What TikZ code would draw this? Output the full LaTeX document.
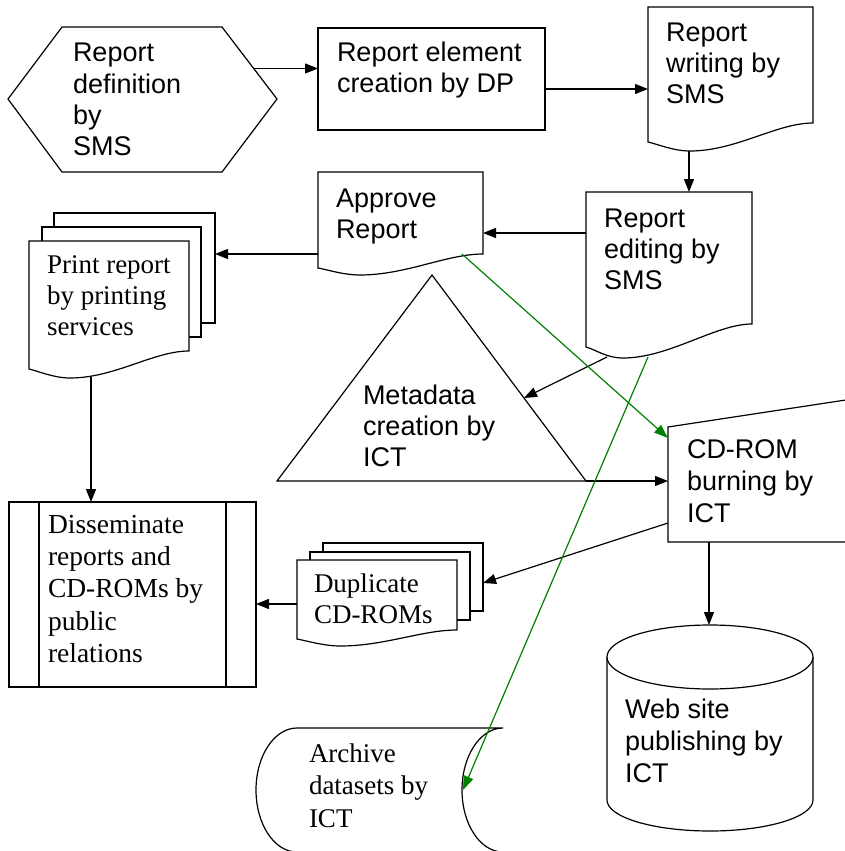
\documentclass[tikz,border=0pt]{standalone}
\usepackage{fontspec}
\setmainfont{Liberation Serif}
\newfontfamily\flowsans{Liberation Sans}
\usetikzlibrary{arrows.meta}
\definecolor{dgreen}{RGB}{0,128,0}

% multi-line labels whose anchor is the baseline of the first line
\newcommand\sanslines[2][31.3]{\parbox[t]{260pt}{\raggedright\flowsans\fontsize{27pt}{#1pt}\selectfont #2}}
\newcommand\seriflines[3][31.3]{\parbox[t]{260pt}{\raggedright\rmfamily\fontsize{#2pt}{#1pt}\selectfont #3}}

\tikzset{
  outline/.style={draw=black, line width=1.2pt, fill=white, line join=miter},
  flow/.style={draw=black, line width=1.2pt, -{Triangle[length=13pt,width=10pt]}},
  greenflow/.style={draw=dgreen, line width=1.2pt, -{Triangle[length=14pt,width=10pt]}, dgreen},
  lbl/.style={anchor=base west, inner sep=0pt, outer sep=0pt}
}

% document sheet with a wavy lower edge:
% left, top, right, left-bottom y, right-bottom y, lowest y, x of lowest point
\newcommand\docshape[7]{%
  \draw[outline] (#1,#2) -- (#3,#2) -- (#3,#5)
    .. controls ({#3-0.22*(#3-#1)},#5) and ({#7+0.28*(#3-#1)},#6) .. (#7,#6)
    .. controls ({#7-0.1*(#3-#1)},#6) and ({#1+0.06*(#3-#1)},{#4+0.25*(#6-#4)}) .. (#1,#4)
    -- cycle;}

\begin{document}
\begin{tikzpicture}[x=1pt, y=-1pt]
\useasboundingbox (0,0) rectangle (845,851);
\fill[white] (0,0) rectangle (845,851);

% Report definition (preparation hexagon)
\draw[outline] (8,99) -- (62,27) -- (222,27) -- (277,99) -- (222,172) -- (62,172) -- cycle;
\node[lbl] (def) at (73,62) {\sanslines{Report\\definition\\by\\SMS}};
\coordinate (def-out) at (254,68.5);

% Report element creation (process)
\draw[outline] (318,28) rectangle (545,130);
\node[lbl] (elem) at (337,62) {\sanslines[31]{Report element\\creation by DP}};
\coordinate (elem-in) at (318,68.5);
\coordinate (elem-out) at (545,89);

% Report writing (document)
\docshape{648}{7}{813}{142}{123}{151}{690}
\node[lbl] (writing) at (666,42) {\sanslines[31]{Report\\writing by\\SMS}};
\coordinate (wr-in) at (648,89);
\coordinate (wr-out) at (689,151);

% Report editing (document)
\docshape{586}{192}{752}{347}{324}{358}{623}
\node[lbl] (editing) at (604,227) {\sanslines[31]{Report\\editing by\\SMS}};
\coordinate (ed-in) at (689,192);
\coordinate (ed-out) at (586,233);
\coordinate (ed-meta) at (607,357);
\coordinate (ed-arch) at (648,357);

% Approve report (document)
\docshape{318}{172}{483}{268}{254}{275}{360}
\node[lbl] (approve) at (336,207) {\sanslines[31]{Approve\\Report}};
\coordinate (ap-in) at (483,233);
\coordinate (ap-out) at (318,254);
\coordinate (ap-cd) at (462,254);

% Print report (multi-document)
\draw[outline] (54,213) rectangle (215,323);
\draw[outline] (42,227) rectangle (201,337);
\docshape{29}{241}{189}{369}{351}{378}{70}
\node[lbl] (print) at (47,273) {\seriflines[31]{27}{Print report\\by printing\\services}};
\coordinate (pr-in) at (215,254);
\coordinate (pr-out) at (91,377);

% Disseminate (predefined process)
\draw[outline] (9,502) rectangle (256,687);
\draw[line width=1.2pt] (39,502) -- (39,687) (226,502) -- (226,687);
\node[lbl] (dissem) at (48,533) {\seriflines[32.4]{27.5}{Disseminate\\reports and\\CD-ROMs by\\public\\relations}};
\coordinate (dis-in) at (91,502);
\coordinate (dis-side) at (256,604);

% Metadata creation (extract triangle)
\draw[outline] (432,275) -- (586,481) -- (277,481) -- cycle;
\node[lbl] (meta) at (363,404) {\sanslines[31]{Metadata\\creation by\\ICT}};
\coordinate (meta-in) at (524,398);
\coordinate (meta-out) at (586,481);

% CD-ROM burning (manual input)
\draw[outline] (668,542) -- (668,427) -- (849,399.5) -- (849,542) -- cycle;
\node[lbl] (cdrom) at (687,458) {\sanslines[32]{CD-ROM\\burning by\\ICT}};
\coordinate (cd-in) at (668,481);
\coordinate (cd-green) at (668,438);
\coordinate (cd-dup) at (668,523);
\coordinate (cd-web) at (709,542);

% Duplicate CD-ROMs (multi-document)
\draw[outline] (323,543) rectangle (483,611);
\draw[outline] (310,552) rectangle (470,620);
\docshape{297}{560}{457}{639}{630}{646}{340}
\node[lbl] (dup) at (314,592) {\seriflines[31]{27}{Duplicate\\CD-ROMs}};
\coordinate (dup-in) at (483,583);
\coordinate (dup-out) at (297,604);

% Web site publishing (cylinder)
\fill[white] (607,657) -- (607,800) arc[start angle=180, end angle=360, x radius=103pt, y radius=31pt] -- (813,657) -- cycle;
\draw[line width=1.2pt] (607,657) -- (607,800) arc[start angle=180, end angle=360, x radius=103pt, y radius=31pt] -- (813,657);
\draw[outline] (710,657) ellipse [x radius=103pt, y radius=32pt];
\node[lbl] (web) at (625,718) {\sanslines[32]{Web site\\publishing by\\ICT}};
\coordinate (web-in) at (709,625);

% Archive datasets (stored data)
\draw[outline] (297,728) -- (503,728)
  arc[start angle=90, end angle=270, x radius=41pt, y radius=62pt]
  -- (297,852)
  arc[start angle=270, end angle=90, x radius=41pt, y radius=62pt] -- cycle;
\node[lbl] (archive) at (309,762) {\seriflines[32.5]{27}{Archive\\datasets by\\ICT}};
\coordinate (arc-in) at (463,790);

% connectors
\draw[flow] (def-out) -- (elem-in);
\draw[flow] (elem-out) -- (wr-in);
\draw[flow] (wr-out) -- (ed-in);
\draw[flow] (ed-out) -- (ap-in);
\draw[flow] (ap-out) -- (pr-in);
\draw[flow] (pr-out) -- (dis-in);
\draw[flow] (ed-meta) -- (meta-in);
\draw[flow] (meta-out) -- (cd-in);
\draw[flow] (cd-dup) -- (dup-in);
\draw[flow] (dup-out) -- (dis-side);
\draw[flow] (cd-web) -- (web-in);
\draw[greenflow] (ap-cd) -- (cd-green);
\draw[greenflow] (ed-arch) -- (arc-in);
\end{tikzpicture}
\end{document}
